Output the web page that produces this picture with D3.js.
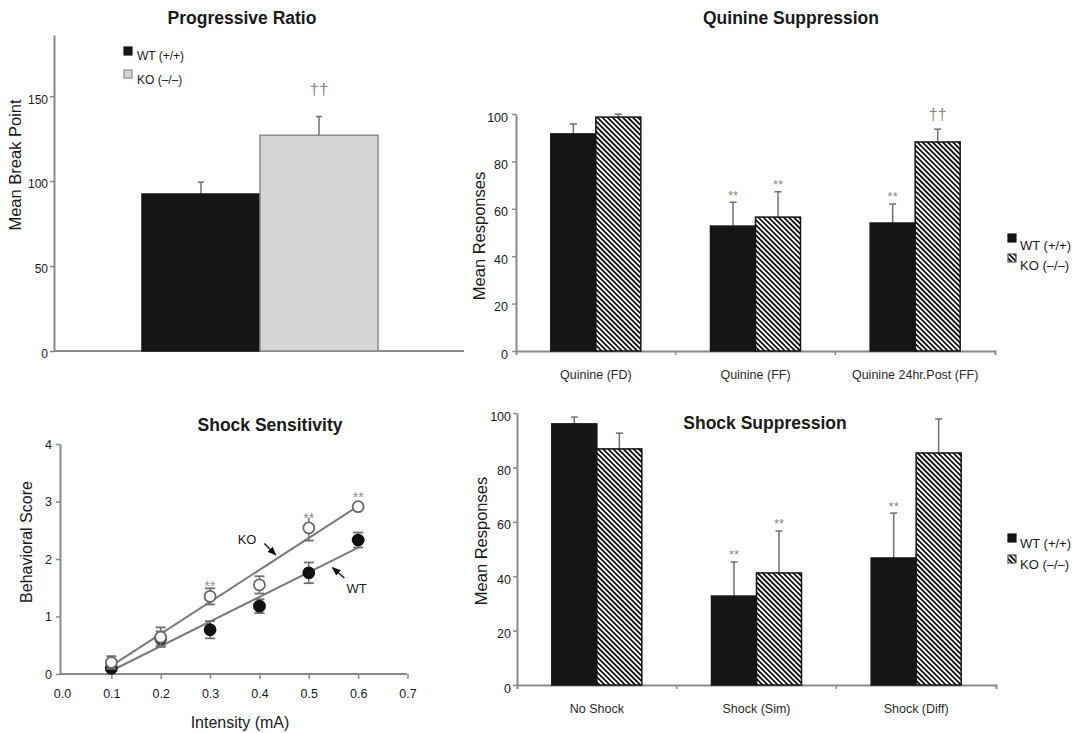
<!DOCTYPE html>
<html>
<head>
<meta charset="utf-8">
<script src="https://cdn.jsdelivr.net/npm/d3@7"></script>
<style>
  body { margin: 0; background: #fff; }
  text { font-family: "Liberation Sans", Arial, sans-serif; fill: #1a1a1a; }
</style>
</head>
<body>
<script>
const W = 1081;
const H = 733;

// Progressive Ratio
const prGroups = ['WT (+/+)', 'KO (–/–)'];
const prMeans = [92.4, 127];
const prErrors = [7, 11];
const prTicks = [0, 50, 100, 150];

// Quinine Suppression
const quinineCats = ['Quinine (FD)', 'Quinine (FF)', 'Quinine 24hr.Post (FF)'];
const quinineWT = [91.6, 52.7, 54];
const quinineWTErr = [4.2, 10.1, 8];
const quinineKO = [98.7, 56.5, 88.2];
const quinineKOErr = [1.2, 10.7, 5.4];
const quinineWTMarks = ['', '**', '**'];
const quinineKOMarks = ['', '**', '††'];

// Shock Sensitivity
const intensity = [0.1, 0.2, 0.3, 0.4, 0.5, 0.6];
const sensWT = [0.1, 0.62, 0.77, 1.18, 1.76, 2.33];
const sensWTErr = [0.05, 0.12, 0.15, 0.12, 0.18, 0.13];
const sensKO = [0.2, 0.64, 1.35, 1.55, 2.54, 2.91];
const sensKOErr = [0.11, 0.17, 0.14, 0.15, 0.22, 0.05];
const sensKOMarks = ['', '', '**', '', '**', '**'];
const sensXTicks = [0, 0.1, 0.2, 0.3, 0.4, 0.5, 0.6, 0.7];
const sensYTicks = [0, 1, 2, 3, 4];

// Shock Suppression
const shockCats = ['No Shock', 'Shock (Sim)', 'Shock (Diff)'];
const shockWT = [96, 32.7, 46.7];
const shockWTErr = [2.5, 12.5, 16.5];
const shockKO = [86.8, 41.2, 85.3];
const shockKOErr = [5.8, 15.4, 12.5];
const shockWTMarks = ['', '**', '**'];
const shockKOMarks = ['', '**', ''];

const pctTicks = [0, 20, 40, 60, 80, 100];

const AXIS = '#8a8a8a';
const ERR = '#707070';

const svg = d3.select('body').append('svg')
  .attr('width', W)
  .attr('height', H);

const defs = svg.append('defs');
const hatch = defs.append('pattern')
  .attr('id', 'hatch')
  .attr('patternUnits', 'userSpaceOnUse')
  .attr('width', 3.6)
  .attr('height', 3.6)
  .attr('patternTransform', 'rotate(-45)');
hatch.append('rect').attr('width', 3.6).attr('height', 3.6).attr('fill', '#fff');
hatch.append('rect').attr('width', 1.8).attr('height', 3.6).attr('fill', '#111');

defs.append('marker')
  .attr('id', 'arrow')
  .attr('viewBox', '0 0 10 10')
  .attr('refX', 9).attr('refY', 5)
  .attr('markerWidth', 7).attr('markerHeight', 7)
  .attr('orient', 'auto')
  .append('path')
    .attr('d', 'M0,1 L10,5 L0,9 Z')
    .attr('fill', '#111');

function title(txt, cx, cy) {
  svg.append('text')
    .attr('x', cx).attr('y', cy)
    .attr('dy', '0.35em')
    .attr('text-anchor', 'middle')
    .style('font-size', '17.5px')
    .style('font-weight', 'bold')
    .text(txt);
}

function yLabel(txt, cx, cy, size) {
  svg.append('text')
    .attr('transform', `translate(${cx},${cy}) rotate(-90)`)
    .attr('dy', '0.35em')
    .attr('text-anchor', 'middle')
    .style('font-size', size + 'px')
    .text(txt);
}

function styleAxis(g, fs) {
  g.select('.domain').attr('stroke', AXIS).attr('stroke-width', 2);
  g.selectAll('.tick line').attr('stroke', AXIS).attr('stroke-width', 1.5);
  g.selectAll('.tick text')
    .attr('fill', '#1a1a1a')
    .style('font-size', fs + 'px')
    .style('font-family', '"Liberation Sans", Arial, sans-serif');
}

// marks like ** or †† centred at cy
function mark(txt, cx, cy, fs) {
  const lift = txt.indexOf('*') >= 0 ? 0.57 : 0.26;
  svg.append('text')
    .attr('x', cx).attr('y', cy + lift * fs)
    .attr('text-anchor', 'middle')
    .style('font-size', fs + 'px')
    .style('fill', '#8c8c8c')
    .text(txt);
}

// ---------- Progressive Ratio ----------
(function () {
  const y = d3.scaleLinear().domain([0, 186]).range([351, 35]);
  const x = d3.scaleBand().domain(prGroups).range([142, 378]);

  const ga = svg.append('g')
    .attr('transform', 'translate(54,0)')
    .call(d3.axisLeft(y).tickValues(prTicks).tickSize(4).tickSizeOuter(0).tickPadding(2));
  styleAxis(ga, 12);
  ga.selectAll('.tick text').attr('y', 3);

  svg.append('line')
    .attr('x1', 54).attr('x2', 464)
    .attr('y1', y(0)).attr('y2', y(0))
    .attr('stroke', AXIS).attr('stroke-width', 2);

  const rows = prGroups.map((g, i) => ({ g, v: prMeans[i], e: prErrors[i], i }));

  svg.selectAll('.prErr').data(rows).enter().append('line')
    .attr('class', 'prErr')
    .attr('x1', d => x(d.g) + x.bandwidth() / 2)
    .attr('x2', d => x(d.g) + x.bandwidth() / 2)
    .attr('y1', d => y(d.v))
    .attr('y2', d => y(d.v + d.e))
    .attr('stroke', ERR).attr('stroke-width', 1.5);
  svg.selectAll('.prCap').data(rows).enter().append('line')
    .attr('class', 'prCap')
    .attr('x1', d => x(d.g) + x.bandwidth() / 2 - 3)
    .attr('x2', d => x(d.g) + x.bandwidth() / 2 + 3)
    .attr('y1', d => y(d.v + d.e))
    .attr('y2', d => y(d.v + d.e))
    .attr('stroke', ERR).attr('stroke-width', 1.5);

  svg.selectAll('.prBar').data(rows).enter().append('rect')
    .attr('class', 'prBar')
    .attr('x', d => x(d.g))
    .attr('y', d => y(d.v))
    .attr('width', x.bandwidth())
    .attr('height', d => y(0) - y(d.v))
    .attr('fill', d => d.i === 0 ? '#151515' : '#d6d6d6')
    .attr('stroke', d => d.i === 0 ? '#151515' : '#8a8a8a')
    .attr('stroke-width', 1.5);

  mark('††', x(prGroups[1]) + x.bandwidth() / 2, y(prMeans[1] + prErrors[1]) - 26, 17);

  // legend
  const leg = [
    { t: prGroups[0], fill: '#151515', stroke: '#151515' },
    { t: prGroups[1], fill: '#d6d6d6', stroke: '#8a8a8a' }
  ];
  leg.forEach((d, i) => {
    svg.append('rect')
      .attr('x', 124).attr('y', 47 + i * 23)
      .attr('width', 8).attr('height', 8)
      .attr('fill', d.fill).attr('stroke', d.stroke).attr('stroke-width', 1.2);
    svg.append('text')
      .attr('x', 137).attr('y', 60 + i * 24)
      .style('font-size', '12px')
      .text(d.t);
  });

  title('Progressive Ratio', 242, 18);
  yLabel('Mean Break Point', 15, 165, 16.5);
})();

// ---------- grouped bar panels ----------
function barPanel(o) {
  const y = d3.scaleLinear().domain([0, 100]).range([o.base, o.top]);
  const x = d3.scaleBand().domain(o.cats).range([o.left, o.right]);
  const inner = d3.scaleBand().domain(['WT', 'KO']).range([0, 90]);
  const off = (x.bandwidth() - 90) / 2;

  const ga = svg.append('g')
    .attr('transform', `translate(${o.left},0)`)
    .call(d3.axisLeft(y).tickValues(pctTicks).tickSize(4).tickSizeOuter(0).tickPadding(o.tickPad));
  styleAxis(ga, 12.5);
  ga.selectAll('.tick text').attr('y', 3);

  const gx = svg.append('g')
    .attr('transform', `translate(0,${o.base})`)
    .call(d3.axisBottom(x).tickSize(0).tickSizeOuter(4).tickPadding(19));
  styleAxis(gx, 12.5);
  gx.selectAll('.tick text').style('fill', '#2a2a2a');

  svg.selectAll(null).data(o.cats.slice(1)).enter().append('line')
    .attr('x1', d => x(d)).attr('x2', d => x(d))
    .attr('y1', o.base).attr('y2', o.base + 4)
    .attr('stroke', AXIS).attr('stroke-width', 1.5);

  const rows = [];
  o.cats.forEach((c, i) => {
    rows.push({ c, k: 'WT', v: o.wt[i], e: o.wtErr[i], m: o.wtMarks[i] });
    rows.push({ c, k: 'KO', v: o.ko[i], e: o.koErr[i], m: o.koMarks[i] });
  });
  const cx = d => x(d.c) + off + inner(d.k) + inner.bandwidth() / 2;

  svg.selectAll(null).data(rows).enter().append('line')
    .attr('x1', cx).attr('x2', cx)
    .attr('y1', d => y(d.v)).attr('y2', d => y(d.v + d.e))
    .attr('stroke', ERR).attr('stroke-width', 1.5);
  svg.selectAll(null).data(rows).enter().append('line')
    .attr('x1', d => cx(d) - 3.5).attr('x2', d => cx(d) + 3.5)
    .attr('y1', d => y(d.v + d.e)).attr('y2', d => y(d.v + d.e))
    .attr('stroke', ERR).attr('stroke-width', 1.5);

  svg.selectAll(null).data(rows).enter().append('rect')
    .attr('x', d => x(d.c) + off + inner(d.k))
    .attr('y', d => y(d.v))
    .attr('width', inner.bandwidth())
    .attr('height', d => y(0) - y(d.v))
    .attr('fill', d => d.k === 'WT' ? '#151515' : 'url(#hatch)')
    .attr('stroke', '#151515')
    .attr('stroke-width', 1.5);

  rows.filter(d => d.m).forEach(d => {
    const gap = d.m === '††' ? 13 : 10;
    mark(d.m, cx(d), y(d.v + d.e) - gap, d.m === '††' ? 16 : 13);
  });

  // legend
  ['WT (+/+)', 'KO (–/–)'].forEach((t, i) => {
    svg.append('rect')
      .attr('x', o.legX).attr('y', o.legY[i])
      .attr('width', 8).attr('height', 8)
      .attr('fill', i === 0 ? '#151515' : 'url(#hatch)')
      .attr('stroke', i === 0 ? '#151515' : '#555')
      .attr('stroke-width', 1.2);
    svg.append('text')
      .attr('x', o.legX + 12).attr('y', o.legTextY[i])
      .attr('dy', '0.35em')
      .style('font-size', '13px')
      .text(t);
  });

  title(o.title, o.titleX, o.titleY);
  yLabel('Mean Responses', o.labX, o.labY, 16.5);
}

barPanel({
  cats: quinineCats, wt: quinineWT, wtErr: quinineWTErr, ko: quinineKO, koErr: quinineKOErr,
  wtMarks: quinineWTMarks, koMarks: quinineKOMarks,
  left: 516, right: 995, base: 351, top: 114, tickPad: 4,
  legX: 1008, legY: [234, 254], legTextY: [245, 265],
  title: 'Quinine Suppression', titleX: 791, titleY: 18,
  labX: 479, labY: 236
});

barPanel({
  cats: shockCats, wt: shockWT, wtErr: shockWTErr, ko: shockKO, koErr: shockKOErr,
  wtMarks: shockWTMarks, koMarks: shockKOMarks,
  left: 517, right: 996, base: 685, top: 413, tickPad: 2,
  legX: 1008, legY: [534, 555], legTextY: [543, 564],
  title: 'Shock Suppression', titleX: 765, titleY: 423,
  labX: 481, labY: 541
});

// ---------- Shock Sensitivity ----------
(function () {
  const x = d3.scaleLinear().domain([0, 0.7]).range([62, 407.5]);
  const y = d3.scaleLinear().domain([0, 4]).range([674, 444]);

  const ga = svg.append('g')
    .attr('transform', 'translate(60,0)')
    .call(d3.axisLeft(y).tickValues(sensYTicks).tickFormat(d3.format('d'))
      .tickSize(4).tickSizeOuter(0).tickPadding(4));
  styleAxis(ga, 12.5);

  const gx = svg.append('g')
    .attr('transform', `translate(0,${y(0)})`)
    .call(d3.axisBottom(x).tickValues(sensXTicks).tickFormat(d3.format('.1f')).tickSize(5).tickPadding(10));
  styleAxis(gx, 12.5);
  gx.select('.domain').remove();
  gx.selectAll('.tick').filter(d => d === 0).select('line').remove();
  svg.append('line')
    .attr('x1', 60).attr('x2', 407)
    .attr('y1', y(0)).attr('y2', y(0))
    .attr('stroke', AXIS).attr('stroke-width', 2);

  // least-squares fit lines
  function fit(ys) {
    const mx = d3.mean(intensity);
    const my = d3.mean(ys);
    const b = d3.sum(intensity, (v, i) => (v - mx) * (ys[i] - my)) / d3.sum(intensity, v => (v - mx) * (v - mx));
    return v => my + b * (v - mx);
  }
  [sensWT, sensKO].forEach(ys => {
    const f = fit(ys);
    const ends = [intensity[0], intensity[intensity.length - 1]];
    svg.append('path')
      .attr('d', d3.line().x(d => x(d)).y(d => y(f(d)))(ends))
      .attr('fill', 'none')
      .attr('stroke', '#7a7a7a')
      .attr('stroke-width', 2);
  });

  function series(vals, errs, filled) {
    const rows = intensity.map((v, i) => ({ x: v, y: vals[i], e: errs[i] }));
    const g = svg.append('g');
    rows.forEach(d => {
      g.append('line')
        .attr('x1', x(d.x)).attr('x2', x(d.x))
        .attr('y1', y(d.y - d.e)).attr('y2', y(d.y + d.e))
        .attr('stroke', ERR).attr('stroke-width', 1.5);
      [d.y - d.e, d.y + d.e].forEach(v => {
        g.append('line')
          .attr('x1', x(d.x) - 5).attr('x2', x(d.x) + 5)
          .attr('y1', y(v)).attr('y2', y(v))
          .attr('stroke', ERR).attr('stroke-width', 1.8);
      });
    });
    g.selectAll('circle').data(rows).enter().append('circle')
      .attr('cx', d => x(d.x))
      .attr('cy', d => y(d.y))
      .attr('r', 5.5)
      .attr('fill', filled ? '#111' : '#fff')
      .attr('stroke', filled ? '#111' : '#6a6a6a')
      .attr('stroke-width', 1.8);
  }
  series(sensWT, sensWTErr, true);
  series(sensKO, sensKOErr, false);

  intensity.forEach((v, i) => {
    if (!sensKOMarks[i]) return;
    const cx = x(v);
    const cy = y(sensKO[i]) - 13;
    svg.append('rect')
      .attr('x', cx - 8).attr('y', cy - 4)
      .attr('width', 16).attr('height', 7)
      .attr('fill', '#fff');
    mark(sensKOMarks[i], cx, cy, 14);
  });

  // KO / WT arrows
  svg.append('text')
    .attr('x', x(0.375)).attr('y', y(2.34)).attr('dy', '0.35em')
    .attr('text-anchor', 'middle')
    .style('font-size', '13px').text('KO');
  svg.append('line')
    .attr('x1', x(0.41)).attr('y1', y(2.27))
    .attr('x2', x(0.433)).attr('y2', y(2.07))
    .attr('stroke', '#111').attr('stroke-width', 1.3)
    .attr('marker-end', 'url(#arrow)');
  svg.append('text')
    .attr('x', x(0.597)).attr('y', y(1.48)).attr('dy', '0.35em')
    .attr('text-anchor', 'middle')
    .style('font-size', '13px').text('WT');
  svg.append('line')
    .attr('x1', x(0.572)).attr('y1', y(1.67))
    .attr('x2', x(0.548)).attr('y2', y(1.85))
    .attr('stroke', '#111').attr('stroke-width', 1.3)
    .attr('marker-end', 'url(#arrow)');

  title('Shock Sensitivity', 270, 425);
  yLabel('Behavioral Score', 26, 542, 16);
  svg.append('text')
    .attr('x', 240).attr('y', 722).attr('dy', '0.35em')
    .attr('text-anchor', 'middle')
    .style('font-size', '16px')
    .text('Intensity (mA)');
})();
</script>
</body>
</html>
